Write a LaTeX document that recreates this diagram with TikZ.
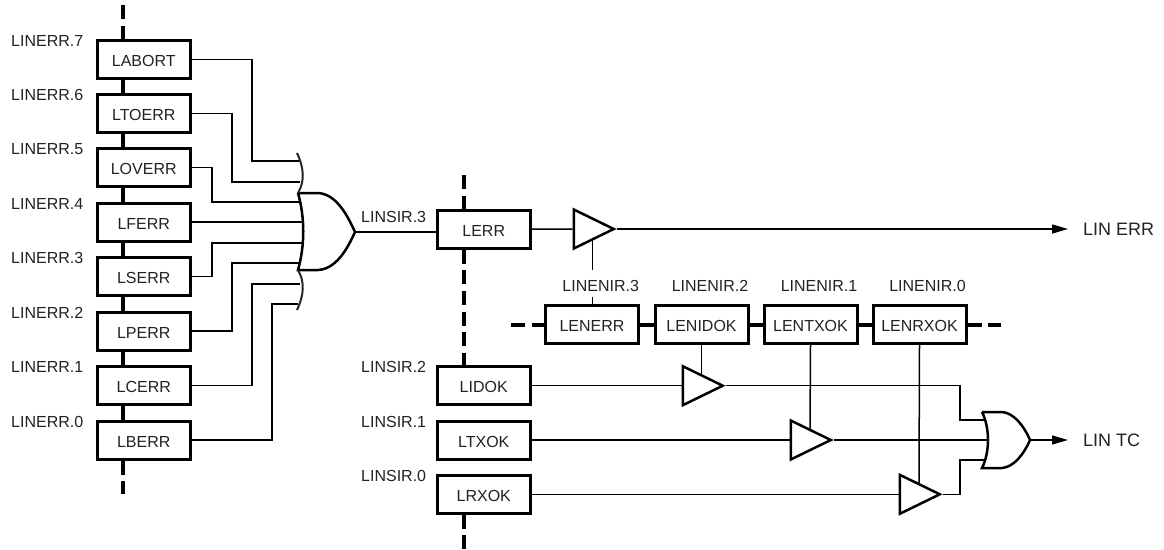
\documentclass[tikz,border=0pt]{standalone}
\usepackage{fontspec}
\setmainfont{Liberation Sans}
\usetikzlibrary{shapes.geometric,arrows.meta}
\definecolor{ink}{HTML}{222222}
\tikzset{
  regbox/.style={draw=black,line width=3pt,fill=white,minimum width=93pt,minimum height=38pt,inner sep=0pt,text height=14.5pt,text depth=0pt,font=\fontsize{16}{18}\selectfont,text=ink},
  wire/.style={draw=black,line width=1.5pt,line join=miter},
  bus/.style={draw=black,line width=4pt},
  busdash/.style={draw=black,line width=4pt,dash pattern=on 14pt off 6.6pt},
  gatebody/.style={draw=black,line width=2.5pt,line join=miter},
  wing/.style={draw=black!85,line width=2pt},
  buffer/.style={isosceles triangle,isosceles triangle stretches,shape border rotate=0,draw=black,line width=2.5pt,fill=white,minimum width=39pt,minimum height=40pt,inner sep=0pt,anchor=west},
  lab/.style={inner sep=0pt,text=ink,font=\fontsize{16}{18}\selectfont},
  biglab/.style={inner sep=0pt,anchor=west,text=ink,font=\fontsize{18}{20}\selectfont},
  outarrow/.style={wire,-{Triangle[length=16pt,width=9pt]}}
}
\begin{document}
\begin{tikzpicture}[x=1pt,y=-1pt]
\useasboundingbox (0,0) rectangle (1164,549);
% left register column
\node[regbox] (labort) at (143.75,59.3) {LABORT};
\node[regbox] (ltoerr) at (143.75,113.4) {LTOERR};
\node[regbox] (loverr) at (143.75,167.6) {LOVERR};
\node[regbox] (lferr) at (143.75,222) {LFERR};
\node[regbox] (lserr) at (143.75,276.5) {LSERR};
\node[regbox] (lperr) at (143.75,331) {LPERR};
\node[regbox] (lcerr) at (143.75,385.7) {LCERR};
\node[regbox] (lberr) at (143.75,440) {LBERR};
% middle column
\node[regbox] (lerr) at (483.75,229.2) {LERR};
\node[regbox] (lidok) at (483.75,385.7) {LIDOK};
\node[regbox] (ltxok) at (483.75,440) {LTXOK};
\node[regbox] (lrxok) at (483.75,494.3) {LRXOK};
% enable row
\node[regbox] (lenerr) at (592,324.5) {LENERR};
\node[regbox] (lenidok) at (701.5,324.5) {LENIDOK};
\node[regbox] (lentxok) at (810.5,324.5) {LENTXOK};
\node[regbox] (lenrxok) at (919.5,324.5) {LENRXOK};
% labels
\foreach \t/\y in {7/41,6/95.2,5/149.4,4/203.8,3/258.2,2/312.6,1/367,0/422}
  \node[lab,anchor=west] (lerrlab\t) at (11,\y) {LINERR.\t};
\foreach \t/\y in {3/217,2/367,1/422,0/476}
  \node[lab,anchor=west] (lsirlab\t) at (361,\y) {LINSIR.\t};
\foreach \t/\x in {3/600.7,2/710,1/819,0/927.5}
  \node[lab] (lenlab\t) at (\x,286) {LINENIR.\t};
\node[biglab] (linerr) at (1083,229) {LIN ERR};
\node[biglab] (lintc) at (1083,440.5) {LIN TC};
\coordinate (arr3) at (1068,229);
\coordinate (arr1) at (1068,440);
% buffers
\node[buffer] (b3) at (572.5,229) {};
\node[buffer] (b2) at (681.5,385.7) {};
\node[buffer] (b1) at (789.5,440) {};
\node[buffer] (b0) at (898.5,494.3) {};
% buses
\coordinate (busl) at (123,0);
\coordinate (busm) at (463.5,0);
\coordinate (t1) at (123,5);
\coordinate (t2) at (123,494);
\coordinate (t3) at (463.5,175);
\coordinate (t4) at (463.5,549);
\coordinate (t5) at (511,324.5);
\coordinate (t6) at (1001,324.5);
\draw[busdash] (t1) -- (labort.north -| busl);
\draw[bus] (labort.south -| busl) -- (ltoerr.north -| busl);
\draw[bus] (ltoerr.south -| busl) -- (loverr.north -| busl);
\draw[bus] (loverr.south -| busl) -- (lferr.north -| busl);
\draw[bus] (lferr.south -| busl) -- (lserr.north -| busl);
\draw[bus] (lserr.south -| busl) -- (lperr.north -| busl);
\draw[bus] (lperr.south -| busl) -- (lcerr.north -| busl);
\draw[bus] (lcerr.south -| busl) -- (lberr.north -| busl);
\draw[busdash] (lberr.south -| busl) -- (t2);
\draw[busdash] (t3) -- (lerr.north -| busm);
\draw[busdash] (lerr.south -| busm) -- (lidok.north -| busm);
\draw[busdash] (lrxok.south -| busm) -- (t4);
\draw[busdash] (t5) -- (lenerr.west);
\draw[bus] (lenerr.east) -- (lenidok.west);
\draw[bus] (lenidok.east) -- (lentxok.west);
\draw[bus] (lentxok.east) -- (lenrxok.west);
\draw[busdash] (lenrxok.east) -- (t6);
% main OR gate
\coordinate (gtop) at (298,193);
\coordinate (gbot) at (298,270);
\coordinate (gout) at (355,232);
\draw[gatebody] (gtop) -- (318,193) .. controls (335,194) and (346,212) .. (gout)
  .. controls (346,252) and (335,269) .. (318,270) -- (gbot)
  .. controls (305,245) and (305,218) .. (gtop);
\coordinate (wt) at (297,153);
\coordinate (wb) at (297,310);
\draw[wing] (wt) .. controls (304,168) and (305,181) .. (gtop);
\draw[wing] (wb) .. controls (304,295) and (305,282) .. (gbot);
% inputs to the main gate
\foreach \n/\bx/\by/\ex in {labort/252/161/299,ltoerr/232/182/300,loverr/212/202/300,lserr/212/243/303,lperr/232/263/300,lcerr/252/284/300,lberr/272/304/298}{
  \coordinate (bend-\n) at (\bx,\by);
  \coordinate (pin-\n) at (\ex,\by);
  \draw[wire] (\n.east) -| (bend-\n) -- (pin-\n);
}
\coordinate (pin-lferr) at (303,222);
\draw[wire] (lferr.east) -- (pin-lferr);
\draw[wire] (gout) -- (gout -| lerr.west);
% right OR gate
\coordinate (ptop) at (982,412);
\coordinate (pbot) at (982,468);
\coordinate (pout) at (1030,440);
\draw[gatebody] (ptop) -- (1002,412) .. controls (1014,413) and (1024,426) .. (pout)
  .. controls (1024,454) and (1014,467) .. (1002,468) -- (pbot)
  .. controls (990,452) and (990,428) .. (ptop);
% status wires
\draw[wire] (lerr.east) -- (b3.west);
\draw[outarrow] (b3.apex) -- (arr3);
\draw[wire] (lidok.east) -- (b2.west);
\draw[wire] (ltxok.east) -- (b1.west);
\draw[wire] (lrxok.east) -- (b0.west);
\coordinate (k2) at (960,420);
\coordinate (i2) at (984,420);
\coordinate (k0) at (960,460);
\coordinate (i0) at (984,460);
\coordinate (i1) at (987,440);
\draw[wire] (b2.apex) -| (k2) -- (i2);
\draw[wire] (b0.apex) -| (k0) -- (i0);
\draw[wire] (b1.apex) -- (i1);
\draw[outarrow] (pout) -- (arr1);
% enables
\coordinate (e3a) at (592.5,240);
\coordinate (e3b) at (592.5,270);
\coordinate (e3c) at (592.5,297);
\coordinate (e2) at (701.5,375.5);
\coordinate (e1) at (810,430);
\coordinate (e0) at (919,484);
\draw[wire] (e3a) -- (e3b);
\draw[wire] (e3c) -- (e3c |- lenerr.north);
\draw[wire] (lenidok.south) -- (e2);
\draw[wire] (lentxok.south) -- (e1);
\draw[wire] (lenrxok.south) -- (e0);
\end{tikzpicture}
\end{document}
